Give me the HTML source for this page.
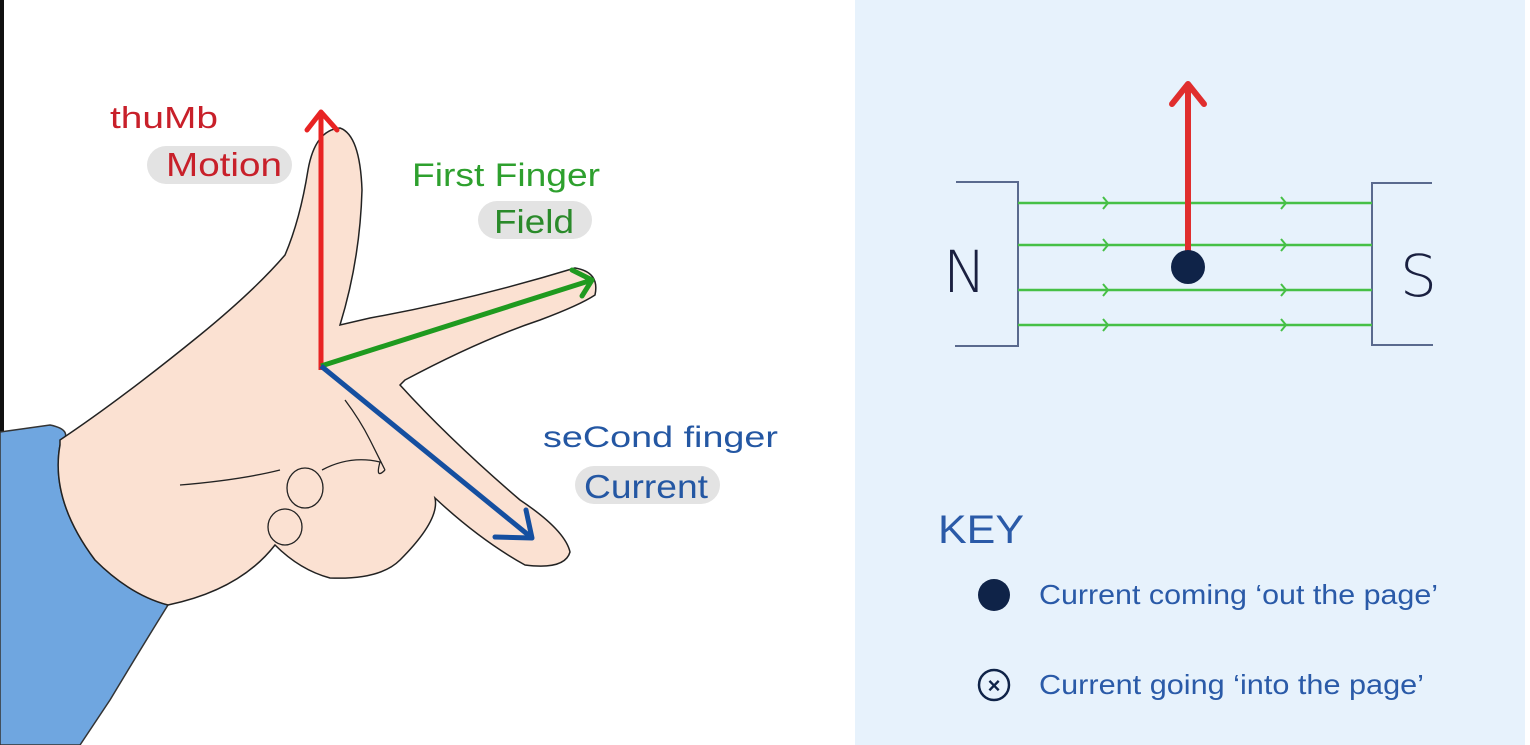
<!DOCTYPE html>
<html><head><meta charset="utf-8"><style>
html,body{margin:0;padding:0;background:#fff;}
body{width:1530px;height:745px;position:relative;overflow:hidden;font-family:"Liberation Sans",sans-serif;}
</style></head><body>
<svg width="1530" height="745" viewBox="0 0 1530 745" xmlns="http://www.w3.org/2000/svg" style="position:absolute;left:0;top:0">
<rect x="0" y="0" width="4" height="745" fill="#111"/>
<rect x="855" y="0" width="670" height="745" fill="#e7f2fc"/>
<path d="M0,432 L50,425 Q75,430 60,445 Q50,500 95,560 Q130,595 168,605 Q140,650 110,700 L80,745 L0,745 Z" fill="#6fa6e0" stroke="#333" stroke-width="1.5"/>
<path d="M60,440 Q120,400 200,335 Q255,290 285,255 Q300,220 308,170 Q315,130 340,128 Q360,135 362,190 Q360,260 340,325 L370,318 Q470,300 575,268 Q600,272 595,295 Q580,305 540,320 Q480,340 405,380 L400,385 Q450,440 520,500 Q565,530 570,552 Q565,570 525,565 Q480,540 435,498 Q440,520 400,560 Q380,580 330,578 Q300,570 275,545 Q240,590 168,605 Q130,595 95,560 Q50,500 60,445 Z" fill="#fbe1d2" stroke="#222" stroke-width="1.5"/>
<path d="M180,485 Q240,480 280,470" fill="none" stroke="#222" stroke-width="1.3"/>
<path d="M345,400 Q360,420 370,440 Q380,460 385,470" fill="none" stroke="#222" stroke-width="1.3"/>
<ellipse cx="305" cy="488" rx="18" ry="20" fill="#fbe1d2" stroke="#222" stroke-width="1.3"/>
<ellipse cx="285" cy="527" rx="17" ry="18" fill="#fbe1d2" stroke="#222" stroke-width="1.3"/>
<path d="M322,470 Q350,455 380,462 Q375,480 385,470" fill="none" stroke="#222" stroke-width="1.3"/>
<line x1="321" y1="370" x2="321" y2="112" stroke="#e82323" stroke-width="5"/>
<polyline points="307,130 321,112 337,130" fill="none" stroke="#e82323" stroke-width="5" stroke-linecap="round" stroke-linejoin="round"/>
<line x1="321" y1="366" x2="592" y2="280" stroke="#1f9a1f" stroke-width="5"/>
<polyline points="572,270 592,280 582,296" fill="none" stroke="#1f9a1f" stroke-width="5" stroke-linecap="round" stroke-linejoin="round"/>
<line x1="321" y1="366" x2="532" y2="538" stroke="#154fa0" stroke-width="5"/>
<polyline points="495,537 532,538 526,510" fill="none" stroke="#154fa0" stroke-width="5" stroke-linecap="round" stroke-linejoin="round"/>
<rect x="147" y="146" width="145" height="38" rx="19" fill="#e3e3e3"/>
<rect x="478" y="201" width="114" height="38" rx="19" fill="#e3e3e3"/>
<rect x="575" y="466" width="145" height="38" rx="19" fill="#e3e3e3"/>
<g font-family="Liberation Sans" lengthAdjust="spacingAndGlyphs">
<text x="110" y="128" font-size="31" fill="#c8202a" textLength="108" lengthAdjust="spacingAndGlyphs">thuMb</text>
<text x="166" y="176" font-size="33" fill="#c8202a" textLength="116" lengthAdjust="spacingAndGlyphs">Motion</text>
<text x="412" y="186" font-size="32" fill="#2ea02e" textLength="188" lengthAdjust="spacingAndGlyphs">First Finger</text>
<text x="494" y="233" font-size="33" fill="#2a8a2a" textLength="80" lengthAdjust="spacingAndGlyphs">Field</text>
<text x="543" y="447" font-size="30" fill="#2457a3" textLength="235" lengthAdjust="spacingAndGlyphs">seCond finger</text>
<text x="584" y="498" font-size="33" fill="#2457a3" textLength="124" lengthAdjust="spacingAndGlyphs">Current</text>
</g>
<g stroke="#5a6a8e" stroke-width="2" fill="none">
<polyline points="956,182 1018,182 1018,346 955,346"/>
<polyline points="1432,183 1372,183 1372,345 1433,345"/>
</g>
<g stroke="#46c046" stroke-width="2.5">
<line x1="1018" y1="203" x2="1372" y2="203"/>
<line x1="1018" y1="245" x2="1372" y2="245"/>
<line x1="1018" y1="290" x2="1372" y2="290"/>
<line x1="1018" y1="325" x2="1372" y2="325"/>
</g>
<g stroke="#46c046" stroke-width="2" fill="none">
<polyline points="1103,197 1108,203 1103,209"/><polyline points="1281,197 1286,203 1281,209"/>
<polyline points="1103,239 1108,245 1103,251"/><polyline points="1281,239 1286,245 1281,251"/>
<polyline points="1103,284 1108,290 1103,296"/><polyline points="1281,284 1286,290 1281,296"/>
<polyline points="1103,319 1108,325 1103,331"/><polyline points="1281,319 1286,325 1281,331"/>
</g>
<text x="943" y="292" font-size="58" fill="#1a2040" font-family="DejaVu Sans" font-weight="200">N</text>
<text x="1400" y="296" font-size="58" fill="#1a2040" font-family="DejaVu Sans" font-weight="200">S</text>
<line x1="1188" y1="265" x2="1188" y2="85" stroke="#e02e2e" stroke-width="6"/>
<polyline points="1172,104 1188,84 1204,104" fill="none" stroke="#e02e2e" stroke-width="6" stroke-linecap="round" stroke-linejoin="round"/>
<circle cx="1188" cy="267" r="17" fill="#0f2348"/>
<text x="938" y="543" font-size="40" fill="#2a5aa8" font-family="Liberation Sans" textLength="86" lengthAdjust="spacingAndGlyphs">KEY</text>
<circle cx="994" cy="595" r="16" fill="#0f2348"/>
<text x="1039" y="604" font-size="28" fill="#2a5aa8" font-family="Liberation Sans" textLength="399" lengthAdjust="spacingAndGlyphs">Current coming ‘out the page’</text>
<circle cx="994" cy="685" r="15" fill="none" stroke="#0f2348" stroke-width="2.5"/>
<text x="994" y="693" font-size="22" fill="#0f2348" text-anchor="middle" font-family="Liberation Sans" font-weight="bold">×</text>
<text x="1039" y="694" font-size="28" fill="#2a5aa8" font-family="Liberation Sans" textLength="385" lengthAdjust="spacingAndGlyphs">Current going ‘into the page’</text>
</svg>
</body></html>
